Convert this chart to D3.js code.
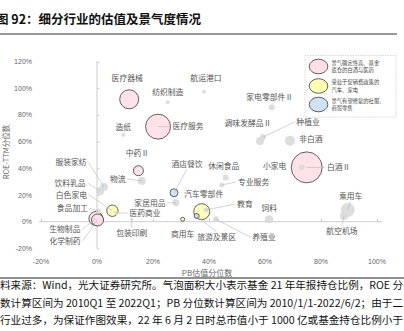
<!DOCTYPE html>
<html><head><meta charset="utf-8">
<script src="https://cdn.jsdelivr.net/npm/d3@7"></script>
<style>
html,body{margin:0;padding:0;background:#fff;overflow:hidden;}
svg{display:block;font-family:"Noto Sans CJK SC","Noto Sans",sans-serif;}
</style></head>
<body>
<svg id="c" width="404" height="331"></svg>
<script>
// ---- data ----
const industries = ["医疗器械","医疗服务","白酒Ⅱ","中药Ⅱ","生物制品","化学制药","白色家电","汽车零部件","商用车","酒店餐饮","旅游及景区",
  "纺织制造","造纸","航运港口","家电零部件Ⅱ","调味发酵品Ⅱ","种植业","非白酒","小家电","休闲食品","专业服务","物流","服装家纺","饮料乳品",
  "食品加工","家居用品","医药商业","包装印刷","教育","养殖业","饲料","乘用车","航空机场"];
const pbPercentile  = [11.5,21.8,74.9,14.8,-0.4,0.2,5.5,37.4,30.6,27.5,35.6, 25.3,9.4,38.2,62.4,58.2,59.3,68.9,73.1,46.0,44.5,16.0,2.5,1.1, 0.5,28.2,6.8,12.4,38.9,42.5,61.5,89.5,88.2];
const roePercentile = [91.7,71.2,40.7,38.2,2.4,1.3,8.2,7.5,1.8,21.7,4.3, 89.4,65.0,97.4,85.7,60.4,63.4,60.7,40.7,33.0,27.5,30.5,26.0,23.0, 8.0,14.2,6.5,1.8,8.8,1.8,1.8,8.8,4.3];
const fundHolding   = [3.35,5.8,8.9,0.93,1.82,1.34,1.2,2.38,0.15,0.59,0.23, 0.15,0.15,0.15,0.33,0.59,0.33,0.93,0.33,0.33,0.23,0.59,0.59,0.59, 0.23,0.45,0.15,0.08,0.23,0.33,0.59,1.82,0.59];
const groupOf       = ["a","a","a","a","a","a","b","b","b","c","c", "g","g","g","g","g","g","g","g","g","g","g","g","g", "g","g","g","g","g","g","g","g","g"];
const xTicks = [-20,0,20,40,60,80,100];
const yTicks = [-20,0,20,40,60,80,100,120];
const legendGroups = ["a","b","c"];
const legendText = [["景气确定性高、基金","底仓的白酒与医药"],["受益于促销费政策的","汽车、家电"],["景气有望修复的社服、","商贸零售"]];
const titleText = "图 92：细分行业的估值及景气度情况";
const xTitle = "PB估值分位数", yTitle = "ROE-TTM分位数";
const footLines = ["料来源：Wind，光大证券研究所。气泡面积大小表示基金 21 年年报持仓比例，ROE 分",
  "数计算区间为 2010Q1 至 2022Q1；PB 分位数计算区间为 2010/1/1-2022/6/2；由于二",
  "行业过多，为保证作图效果，22 年 6 月 2 日时总市值小于 1000 亿或基金持仓比例小于"];

// ---- layout (label offsets in px, leader flag) ----
const labelOff = [[-2,-21,0],[30,0,1],[32,0,1],[-1,-17.5,0],[-31,11,1],[-32.5,21,1],[-41,-16,1],[2,-17.5,0],[0,14.5,0],[13,-29,1],[20,21.5,1],
  [0,-10.5,0],[0,-8,0],[2,-13.7,0],[-2,-10.5,0],[-12,-18.3,0],[45,-15,1],[21,-1.7,0],[-27,-1.3,0],[-2,-11.7,0],[32,-3,1],[-24,-2,1],[-33,-24.3,1],[-30,-8,1],
  [-26,-2.7,1],[-26,0,1],[29,0,1],[0,14,1],[39,-6,1],[48,18,1],[0,-11,0],[3,-14,1],[-2,15,1]];
const fills = {a:"#fde0e5",b:"#ffffb4",c:"#cfe2f3",g:"#d9d9d9"};

const svg = d3.select("#c");
const x = d3.scaleLinear().domain([-20,100]).range([41,377]);
const y = d3.scaleLinear().domain([-20,120]).range([248.4,61.5]);
const r = d3.scaleSqrt().domain([0,10]).range([0,16.4]);

// title
svg.append("text").attr("x",-4).attr("y",24).attr("font-size",12.5).attr("font-weight","bold").attr("fill","#111").text(titleText);
svg.append("line").attr("x1",0).attr("x2",397).attr("y1",34).attr("y2",34).attr("stroke","#777").attr("stroke-width",1.3);

// axes
const xAxis = d3.axisTop(x).tickValues(xTicks).tickSize(3).tickFormat("");
const gx = svg.append("g").attr("transform",`translate(0,${y(0)})`).call(xAxis);
gx.select(".domain").attr("d",`M${x(-20)-2},0H${x(100)+5}`);
gx.selectAll("path,line").attr("stroke","#bfbfbf").attr("stroke-width",0.8);
const yAxis = d3.axisRight(y).tickValues(yTicks).tickSize(2.5).tickFormat("");
const gy = svg.append("g").attr("transform",`translate(${x(0)},0)`).call(yAxis);
gy.selectAll("path,line").attr("stroke","#bfbfbf").attr("stroke-width",0.8);
gy.select(".domain").attr("d",`M0,${y(120)}V${y(-20)}`);

svg.append("g").selectAll("text").data(yTicks).join("text")
  .attr("x",32).attr("y",d=>y(d)+2.5).attr("text-anchor","end").attr("font-size",7).attr("fill","#666")
  .attr("font-family","Liberation Sans, Arial, sans-serif").text(d=>d+"%");
svg.append("g").selectAll("text").data(xTicks).join("text")
  .attr("x",d=>x(d)).attr("y",264).attr("text-anchor","middle").attr("font-size",7).attr("fill","#666")
  .attr("font-family","Liberation Sans, Arial, sans-serif").text(d=>d+"%");
svg.append("text").attr("x",207).attr("y",276).attr("text-anchor","middle").attr("font-size",8).attr("fill","#666").text(xTitle);
svg.append("text").attr("transform","translate(9,152) rotate(-90)").attr("text-anchor","middle").attr("font-size",7.5).attr("fill","#666").text(yTitle);

// bubbles
const pts = industries.map((n,i)=>({n,i,px:x(pbPercentile[i]),py:y(roePercentile[i]),rr:r(fundHolding[i]),g:groupOf[i]}));
const order = pts.slice().sort((a,b)=>b.rr-a.rr);
svg.append("g").selectAll("circle").data(order).join("circle")
  .attr("cx",d=>d.px).attr("cy",d=>d.py).attr("r",d=>d.rr)
  .attr("fill",d=>fills[d.g]).attr("fill-opacity",0.9)
  .attr("stroke",d=>d.g==="g"?"none":"#3a3a3a").attr("stroke-width",0.8);

// leaders + labels
const lab = svg.append("g");
pts.forEach(d=>{
  const [dx,dy,lead] = labelOff[d.i];
  const lx = d.px+dx, ly = d.py+dy;
  const w = d.n.length*8;
  if(lead){
    let ex, ey;
    if(Math.abs(dx) > w/2){ ex = lx - Math.sign(dx)*(w/2+1.5); ey = ly; }
    else { ex = lx; ey = ly - Math.sign(dy)*5.5; }
    lab.append("line").attr("x1",d.px).attr("y1",d.py).attr("x2",ex).attr("y2",ey)
      .attr("stroke","#b5b5b5").attr("stroke-width",0.6);
  }
  lab.append("text").attr("x",lx).attr("y",ly+2.8).attr("text-anchor","middle").attr("font-size",7.8).attr("fill","#555").text(d.n);
});

// legend
const lg = svg.append("g");
lg.append("rect").attr("x",305).attr("y",55.5).attr("width",91).attr("height",61.5).attr("fill","#fff")
  .attr("stroke","#c8c8c8").attr("stroke-width",0.7).attr("stroke-dasharray","1.5,1");
const legY = [66.5,86,104.5];
legendGroups.forEach((g,k)=>{
  lg.append("ellipse").attr("cx",318.5).attr("cy",legY[k]).attr("rx",9.3).attr("ry",7.3)
    .attr("fill",fills[g]).attr("stroke","#3a3a3a").attr("stroke-width",0.8);
  legendText[k].forEach((t,j)=>{
    lg.append("text").attr("x",331.5).attr("y",legY[k]-1.8+j*7.6).attr("font-size",5.3).attr("fill","#444").text(t);
  });
});

// footer
svg.append("line").attr("x1",0).attr("x2",404).attr("y1",278).attr("y2",278).attr("stroke","#222").attr("stroke-width",1);
footLines.forEach((t,k)=>{
  svg.append("text").attr("x",0).attr("y",289+k*17.5).attr("font-size",10.3).attr("fill","#111")
    .attr("textLength",403).attr("lengthAdjust","spacingAndGlyphs").text(t);
});
</script>
</body></html>
